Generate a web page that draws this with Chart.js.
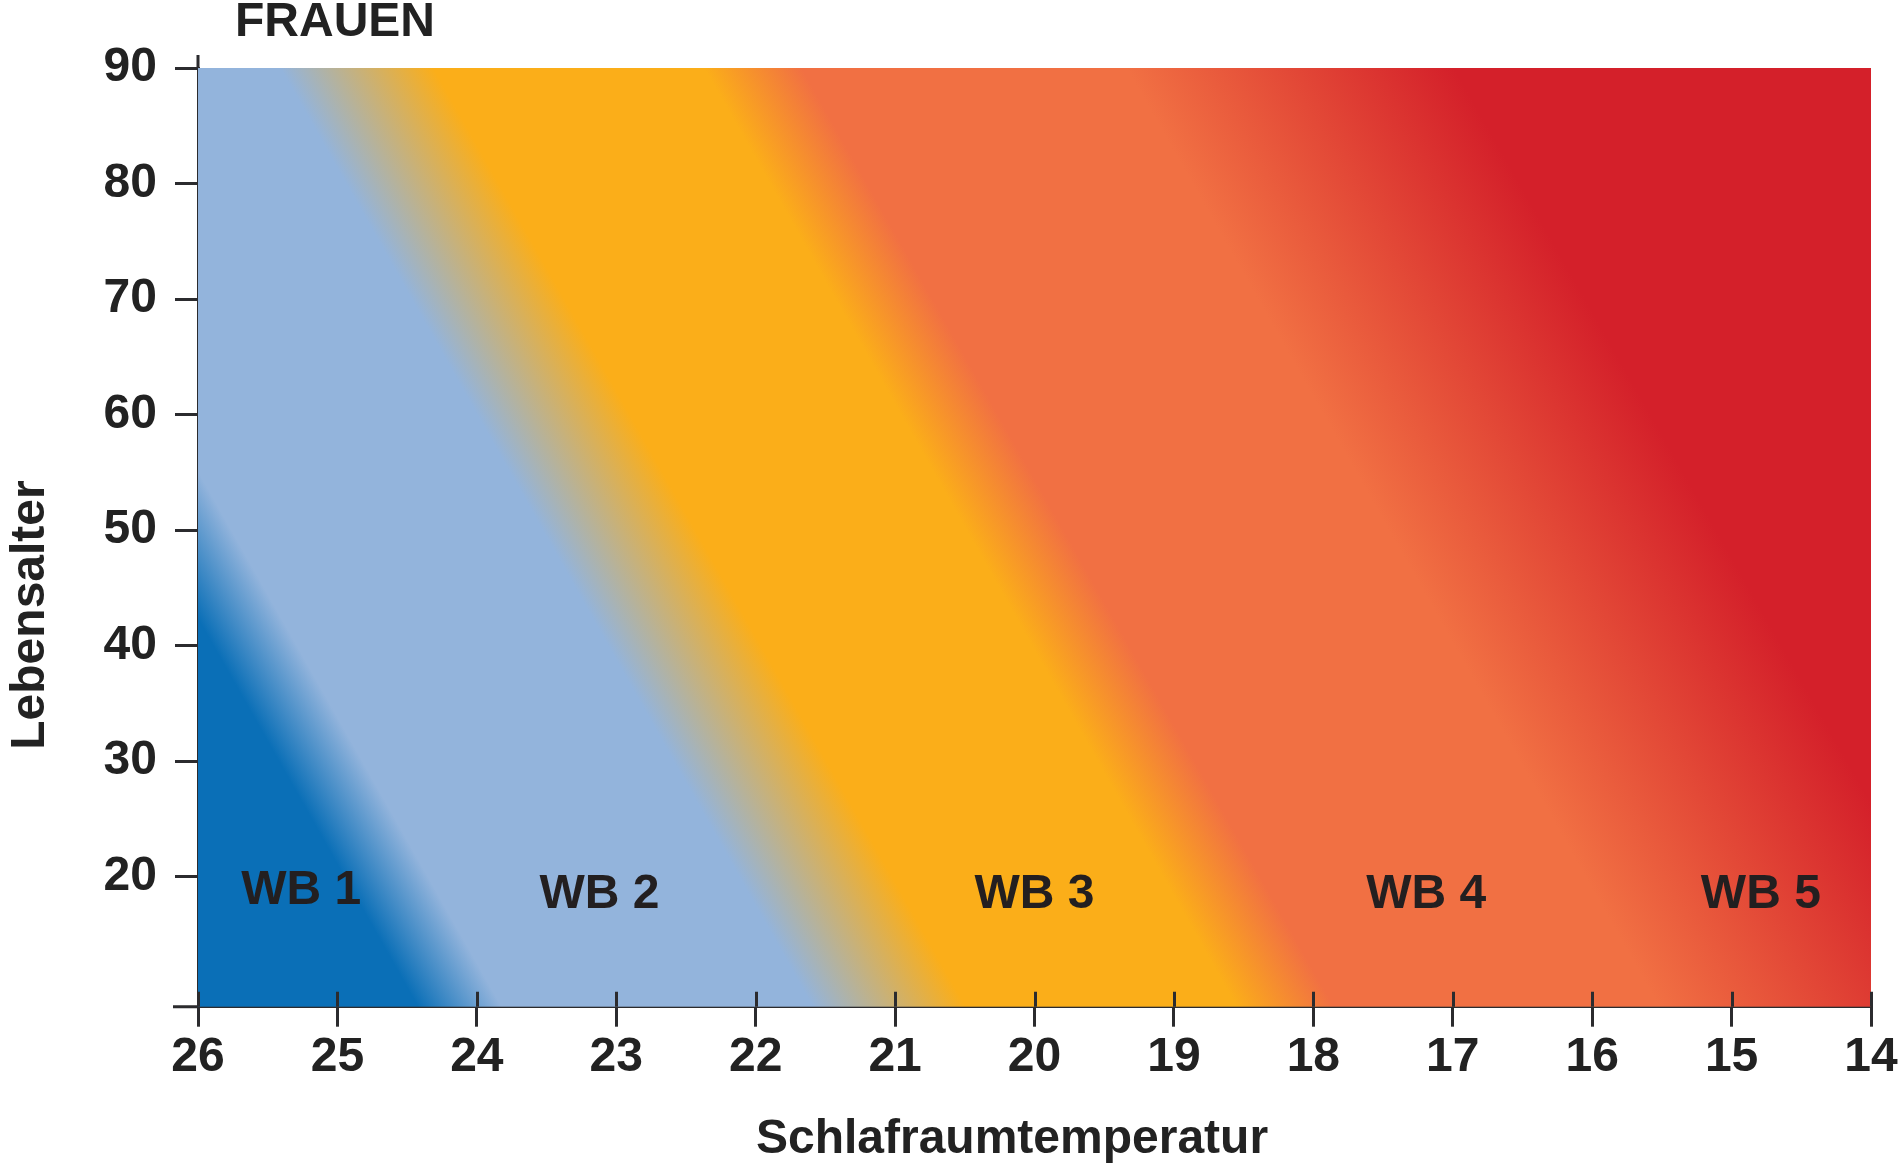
<!DOCTYPE html>
<html>
<head>
<meta charset="utf-8">
<script src="https://cdn.jsdelivr.net/npm/chart.js@4.4.1/dist/chart.umd.min.js"></script>
<style>
  html, body { margin: 0; padding: 0; background: #fff; }
  canvas { display: block; }
</style>
</head>
<body>
<canvas id="chart" width="1900" height="1163"></canvas>
<script>
// Achsen
const tempTicks = [26, 25, 24, 23, 22, 21, 20, 19, 18, 17, 16, 15, 14];
const ageTicks = [20, 30, 40, 50, 60, 70, 80, 90];
const tempMin = 14, tempMax = 26;
const ageMin = 8.75, ageMax = 90;

// Wärmebedarfsstufen (Beschriftung)
const zoneNames = ['WB 1', 'WB 2', 'WB 3', 'WB 4', 'WB 5'];
const zoneTemps = [25.26, 23.12, 20.0, 17.19, 14.79];
const zoneAges = [19.1, 18.8, 18.8, 18.8, 18.8];

// Zonengrenzen: Temperatur bei Alter 20, Verschiebung pro Lebensjahr
const refAge = 20;
const bandSlope = 0.047;
const edgeTemps = [24.95, 24.35, 22.12, 21.02, 19.08, 18.38, 16.05, 13.7];
const edgeColors = ['#0a6fb7', '#93b4dc', '#93b4dc', '#fbae19', '#fbae19', '#f17043', '#f17043', '#d4202a'];

const axisColor = '#2b2b2e';
const textColor = '#222222';
const fontFamily = '"Liberation Sans", Arial, Helvetica, sans-serif';

Chart.defaults.font.family = fontFamily;
Chart.defaults.font.size = 48;
Chart.defaults.font.weight = 'bold';
Chart.defaults.color = textColor;

// Farbverlauf der Zonen, schräg entlang der Grenzen
const bandPlugin = {
  id: 'bands',
  beforeDatasetsDraw(chart) {
    const { ctx, chartArea: a, scales: { x, y } } = chart;
    const ox = x.getPixelForValue(tempMin + 6), oy = y.getPixelForValue(refAge);
    const px1 = x.getPixelForValue(tempMin + 6 + bandSlope * 60), py1 = y.getPixelForValue(refAge + 60);
    let dx = px1 - ox, dy = py1 - oy;
    const len = Math.hypot(dx, dy);
    dx /= len; dy /= len;
    let nx = -dy, ny = dx;
    if (nx < 0) { nx = -nx; ny = -ny; }
    const proj = (cx, cy) => (cx - ox) * nx + (cy - oy) * ny;
    const s = [proj(a.left, a.top), proj(a.left, a.bottom), proj(a.right, a.top), proj(a.right, a.bottom)];
    const sMin = Math.min(...s), sMax = Math.max(...s);
    const g = ctx.createLinearGradient(ox + nx * sMin, oy + ny * sMin, ox + nx * sMax, oy + ny * sMax);
    edgeTemps.forEach((t, i) => {
      const off = (proj(x.getPixelForValue(t), oy) - sMin) / (sMax - sMin);
      g.addColorStop(Math.min(1, Math.max(0, off)), edgeColors[i]);
    });
    ctx.save();
    ctx.fillStyle = g;
    ctx.fillRect(a.left, a.top, a.width, a.height);
    ctx.restore();
  },
  afterDatasetsDraw(chart) {
    const { ctx } = chart;
    const meta = chart.getDatasetMeta(0);
    ctx.save();
    ctx.fillStyle = '#231f20';
    ctx.font = 'bold 48px ' + fontFamily;
    ctx.textAlign = 'center';
    ctx.textBaseline = 'alphabetic';
    meta.data.forEach((el, i) => ctx.fillText(zoneNames[i], el.x, el.y + 17));
    ctx.restore();
  },
  afterDraw(chart) {
    const { ctx, chartArea: a, scales: { x } } = chart;
    ctx.save();
    ctx.strokeStyle = axisColor;
    ctx.lineWidth = 3;
    ctx.beginPath();
    x.ticks.forEach(t => {
      const px = Math.round(x.getPixelForValue(t.value)) + 0.5;
      ctx.moveTo(px, a.bottom);
      ctx.lineTo(px, a.bottom - 15);
    });
    ctx.moveTo(a.left, a.bottom);
    ctx.lineTo(a.left - 25, a.bottom);
    ctx.moveTo(a.left, a.top);
    ctx.lineTo(a.left, a.top - 13);
    ctx.stroke();

    ctx.fillStyle = textColor;
    ctx.font = 'bold 48px ' + fontFamily;
    ctx.textBaseline = 'alphabetic';
    ctx.textAlign = 'left';
    ctx.fillText('FRAUEN', 235, 36);
    ctx.textAlign = 'center';
    ctx.fillText('Schlafraumtemperatur', 1012, 1153);
    ctx.translate(44, 615);
    ctx.rotate(-Math.PI / 2);
    ctx.fillText('Lebensalter', 0, 0);
    ctx.restore();
  }
};

new Chart(document.getElementById('chart'), {
  type: 'scatter',
  data: {
    datasets: [{
      data: zoneTemps.map((t, i) => ({ x: t, y: zoneAges[i] })),
      pointRadius: 0,
      pointHoverRadius: 0
    }]
  },
  options: {
    responsive: false,
    animation: false,
    layout: { padding: { top: 68, right: 29, left: 0, bottom: 0 } },
    plugins: {
      legend: { display: false },
      tooltip: { enabled: false },
      title: { display: false }
    },
    scales: {
      x: {
        type: 'linear',
        reverse: true,
        min: tempMin,
        max: tempMax,
        afterBuildTicks: s => { s.ticks = tempTicks.map(v => ({ value: v })); },
        afterFit: s => { s.height = 156.3; },
        grid: { drawOnChartArea: false, drawTicks: true, tickLength: 20, color: axisColor, lineWidth: 3 },
        border: { display: true, color: axisColor, width: 3 },
        ticks: { padding: 2, color: textColor, font: { size: 48, weight: 'bold' }, maxRotation: 0, autoSkip: false }
      },
      y: {
        type: 'linear',
        min: ageMin,
        max: ageMax,
        afterBuildTicks: s => { s.ticks = ageTicks.map(v => ({ value: v })); },
        afterFit: s => { s.width = 198; },
        grid: { drawOnChartArea: false, drawTicks: true, tickLength: 23, color: axisColor, lineWidth: 3 },
        border: { display: true, color: axisColor, width: 3 },
        ticks: { padding: 18, color: textColor, font: { size: 48, weight: 'bold' }, autoSkip: false }
      }
    }
  },
  plugins: [bandPlugin]
});
</script>
</body>
</html>
